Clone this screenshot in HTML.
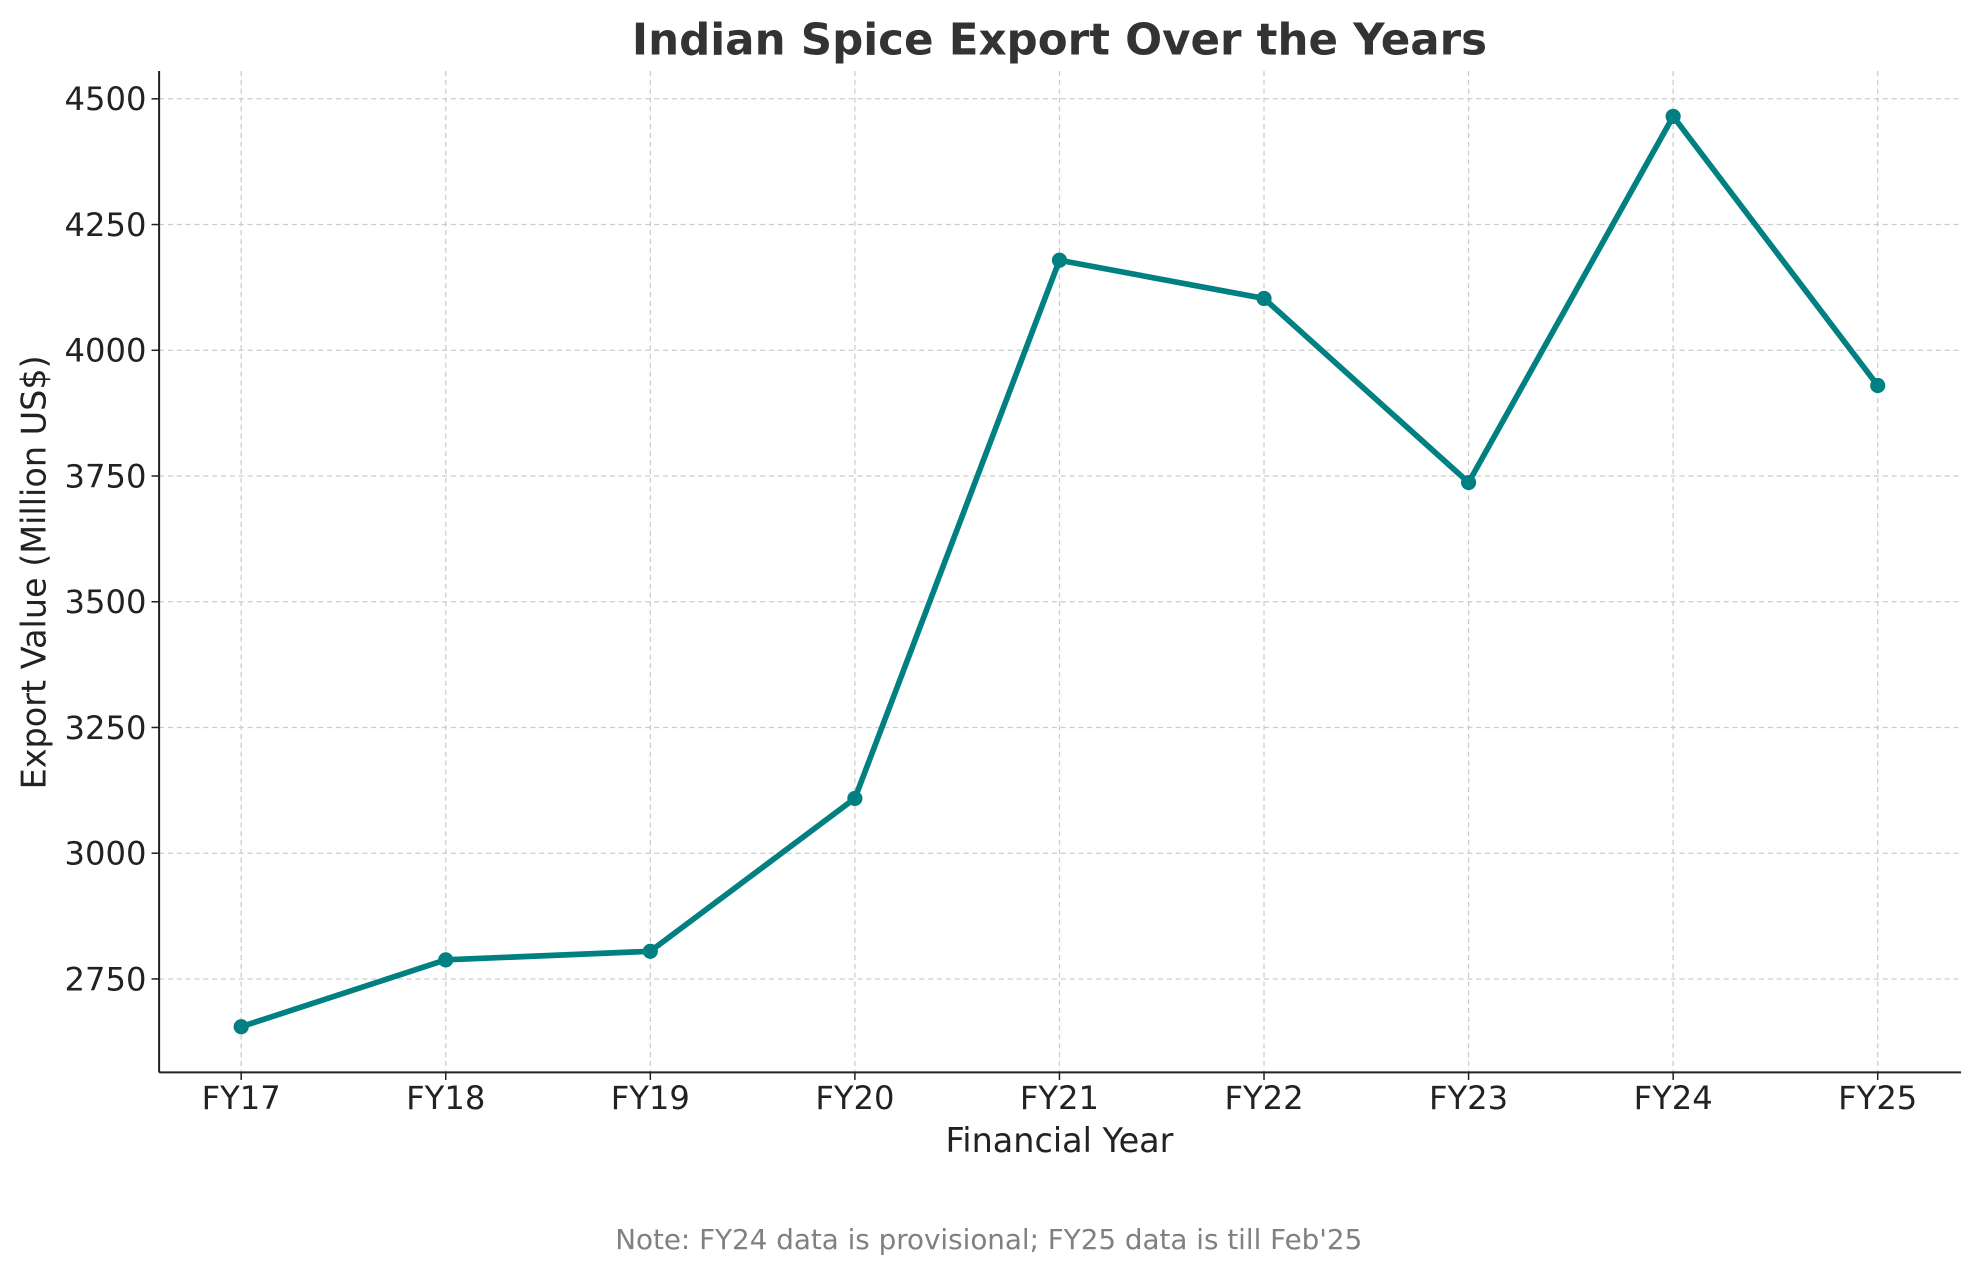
<!DOCTYPE html>
<html><head><meta charset="utf-8"><style>
html,body{margin:0;padding:0;background:#fff;}
svg{display:block;font-family:"DejaVu Sans","Liberation Sans",sans-serif;}
</style></head><body>
<svg id="chart" width="1980" height="1276" viewBox="0 0 1568 1010">
<rect width="1568" height="1010" fill="#fff"/>
<text x="839" y="43" text-anchor="middle" font-size="34.5" font-weight="bold" fill="#333">Indian Spice Export Over the Years</text>
<g id="grid"></g>
<g id="ticks"></g>
<line x1="126" y1="56" x2="126" y2="849" stroke="#222" stroke-width="1.6"/>
<line x1="126" y1="849" x2="1553" y2="849" stroke="#222" stroke-width="1.6"/>
<g id="series"></g>
<text x="839" y="912" text-anchor="middle" font-size="26.5" fill="#222">Financial Year</text>
<text transform="translate(36,453) rotate(-90)" text-anchor="middle" font-size="26.5" fill="#222">Export Value (Million US$)</text>
<text x="783" y="989" text-anchor="middle" font-size="22" fill="#808080">Note: FY24 data is provisional; FY25 data is till Feb'25</text>
</svg>
<script>
const categories = ["FY17","FY18","FY19","FY20","FY21","FY22","FY23","FY24","FY25"];
const exportValues = [2655, 2788, 2805, 3109, 4179, 4103, 3737, 4465, 3930];
const yTicks = [2750, 3000, 3250, 3500, 3750, 4000, 4250, 4500];

const NS = "http://www.w3.org/2000/svg";
function xScale(i){ return 191 + i * 162; }
function yScale(v){ return 775 - (v - 2750) * (697 / 1750); }
function mk(tag, attrs, parent){
  const e = document.createElementNS(NS, tag);
  for (const k in attrs) e.setAttribute(k, attrs[k]);
  parent.appendChild(e);
  return e;
}
const grid = document.getElementById('grid');
const ticks = document.getElementById('ticks');
const series = document.getElementById('series');

yTicks.forEach(function(t){
  const y = yScale(t);
  const g = mk('line', {x1:126, x2:1553, y1:y, y2:y, stroke:'#cccccc', 'stroke-width':1, 'stroke-dasharray':'4,3'}, grid);
  
  
  const tk = mk('line', {x1:120, x2:126, y1:y, y2:y, stroke:'#222', 'stroke-width':1.2}, ticks);
  
  
  const lb = mk('text', {x:116, y:y + 9, 'text-anchor':'end', 'font-size':25.5, fill:'#222'}, ticks);
  lb.textContent = t;
  
  
});
categories.forEach(function(c, i){
  const x = xScale(i);
  const g = mk('line', {x1:x, x2:x, y1:56, y2:849, stroke:'#cccccc', 'stroke-width':1, 'stroke-dasharray':'4,3'}, grid);
  
  
  const tk = mk('line', {x1:x, x2:x, y1:849, y2:855, stroke:'#222', 'stroke-width':1.2}, ticks);
  
  
  const lb = mk('text', {x:x, y:878, 'text-anchor':'middle', 'font-size':25.5, fill:'#222'}, ticks);
  lb.textContent = c;
  
  
});
const pts = exportValues.map(function(v, i){ return xScale(i) + ',' + yScale(v); }).join(' ');
const line = mk('polyline', {points:pts, fill:'none', stroke:'#008080', 'stroke-width':4.5, 'stroke-linejoin':'round'}, series);


exportValues.forEach(function(v, i){
  const p = mk('circle', {cx:xScale(i), cy:yScale(v), r:6, fill:'#008080'}, series);
  
  
});
</script>
</body></html>
